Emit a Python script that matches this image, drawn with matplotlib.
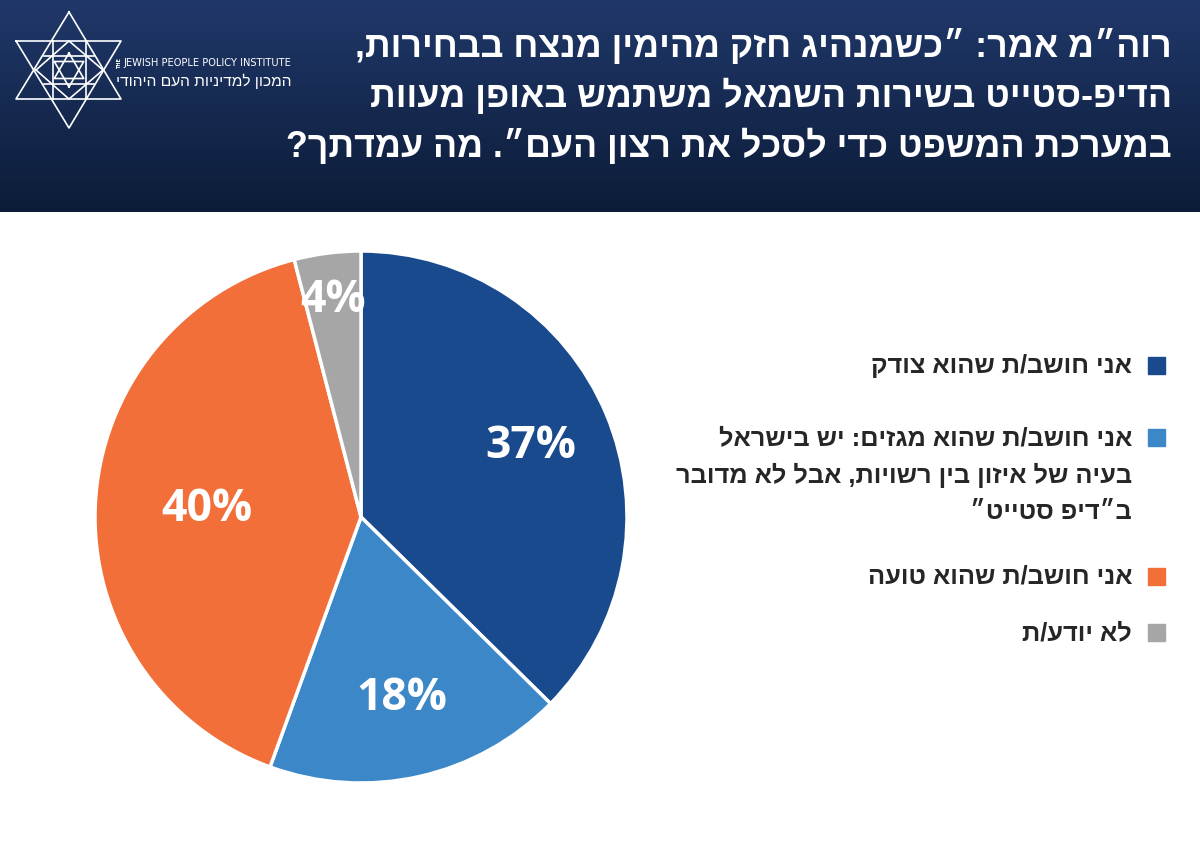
import numpy as np
import matplotlib
matplotlib.use('Agg')
import matplotlib.pyplot as plt
from matplotlib.colors import LinearSegmentedColormap
from matplotlib.patches import Rectangle

# נתונים
labels = [
    ['אני חושב/ת שהוא צודק'],
    ['אני חושב/ת שהוא מגזים: יש בישראל',
     'בעיה של איזון בין רשויות, אבל לא מדובר',
     'ב״דיפ סטייט״'],
    ['אני חושב/ת שהוא טועה'],
    ['לא יודע/ת'],
]
values = [37, 18, 40, 4]
colors = ['#1a4a8e', '#3c87c8', '#f26f3a', '#a6a6a6']

title_lines = [
    'רוה״מ אמר: ״כשמנהיג חזק מהימין מנצח בבחירות,',
    'הדיפ-סטייט בשירות השמאל משתמש באופן מעוות',
    'במערכת המשפט כדי לסכל את רצון העם״. מה עמדתך?',
]
logo_en = 'JEWISH PEOPLE POLICY INSTITUTE'
logo_he = 'המכון למדיניות העם היהודי'

HEB = ['Liberation Sans', 'DejaVu Sans']


def rtl(s):
    # matplotlib אינו תומך בכיווניות - הופכים את המחרוזת
    return s[::-1]


W, H = 1200, 856
fig = plt.figure(figsize=(12, 8.56), dpi=100)
renderer = fig.canvas.get_renderer()


def fit(t, width):
    w = t.get_window_extent(renderer).width
    t.set_fontsize(t.get_fontsize() * width / w)
    return t.get_fontsize()


# שכבת רקע בקואורדינטות פיקסלים
bg = fig.add_axes([0, 0, 1, 1])
grad = np.linspace(0, 1, 256).reshape(-1, 1)
cmap = LinearSegmentedColormap.from_list('hdr', ['#20386a', '#0c1c38'])
bg.imshow(grad, cmap=cmap, extent=(0, W, 212, 0), aspect='auto')
bg.set_xlim(0, W)
bg.set_ylim(H, 0)
bg.axis('off')

# כותרת
title_y = [47, 97, 147]
title_w = [827, 812, 857]
sizes = []
texts = []
for line, y, tw in zip(title_lines, title_y, title_w):
    t = bg.text(1172, y, rtl(line), ha='right', va='center', color='white',
                fontsize=30, fontweight='bold', family=HEB)
    sizes.append(fit(t, tw))
    texts.append(t)
for t in texts:
    t.set_fontsize(np.mean(sizes))

# לוגו
up = np.array([[69, 12], [16, 99], [121, 99], [69, 12]])
down = np.array([[16, 41], [121, 41], [69, 128], [16, 41]])
for tri in (up, down):
    bg.plot(tri[:, 0], tri[:, 1], color='white', lw=1.2)
bg.plot([53, 53], [41, 99], color='white', lw=1.2)
bg.plot([86, 86], [41, 99], color='white', lw=1.2)
bg.plot([44, 94], [56, 56], color='white', lw=1.2)
bg.plot([44, 94], [84, 84], color='white', lw=1.2)
rh = np.array([[36, 70], [69, 41], [103, 70], [69, 99], [36, 70]])
bg.plot(rh[:, 0], rh[:, 1], color='white', lw=1.2)
ang = np.deg2rad([90, 210, 330, 90])
bg.plot(69 + 17 * np.cos(ang), 70 - 17 * np.sin(ang), color='white', lw=1.2)
bg.plot(69 + 17 * np.cos(ang + np.pi), 70 - 17 * np.sin(ang + np.pi), color='white', lw=1.2)
bg.text(119, 63, 'THE', rotation=90, ha='center', va='center', color='white',
        fontsize=3.5, fontweight='bold')
te = bg.text(123, 63, logo_en, ha='left', va='center', color='white',
             fontsize=8, family='DejaVu Sans')
fit(te, 169)
th = bg.text(292, 81, rtl(logo_he), ha='right', va='center', color='white',
             fontsize=10, family=HEB)
fit(th, 174)

# עוגה
ax = fig.add_axes([95 / W, (H - 783) / H, 532 / W, 532 / H])
wedges, _ = ax.pie(values, colors=colors, startangle=90, counterclock=False,
                   wedgeprops=dict(edgecolor='white', linewidth=2.5))
ax.set_xlim(-1, 1)
ax.set_ylim(-1, 1)
ax.set_aspect('equal')
for w in wedges:
    w.set_clip_on(False)

label_r = [0.69, 0.70, 0.58, 0.82]
for w, v, r in zip(wedges, values, label_r):
    a = np.deg2rad((w.theta1 + w.theta2) / 2)
    ax.text(r * np.cos(a), r * np.sin(a), f'{v}%', ha='center', va='center',
            color='white', fontsize=32, fontweight='bold', family='Open Sans')

# מקרא
leg_y = [366, 438, 577, 633]
line_gap = 37
text_right = 1132
lfs = None
for lab, y, c in zip(labels, leg_y, colors):
    bg.add_patch(Rectangle((1148, y - 9), 17, 17, color=c))
    for i, line in enumerate(lab):
        t = bg.text(text_right, y + i * line_gap, rtl(line), ha='right',
                    va='center', color='#262626', fontsize=lfs or 18,
                    fontweight='bold', family=HEB)
        if lfs is None:
            lfs = fit(t, 262)

fig.savefig('out.png', dpi=100)
